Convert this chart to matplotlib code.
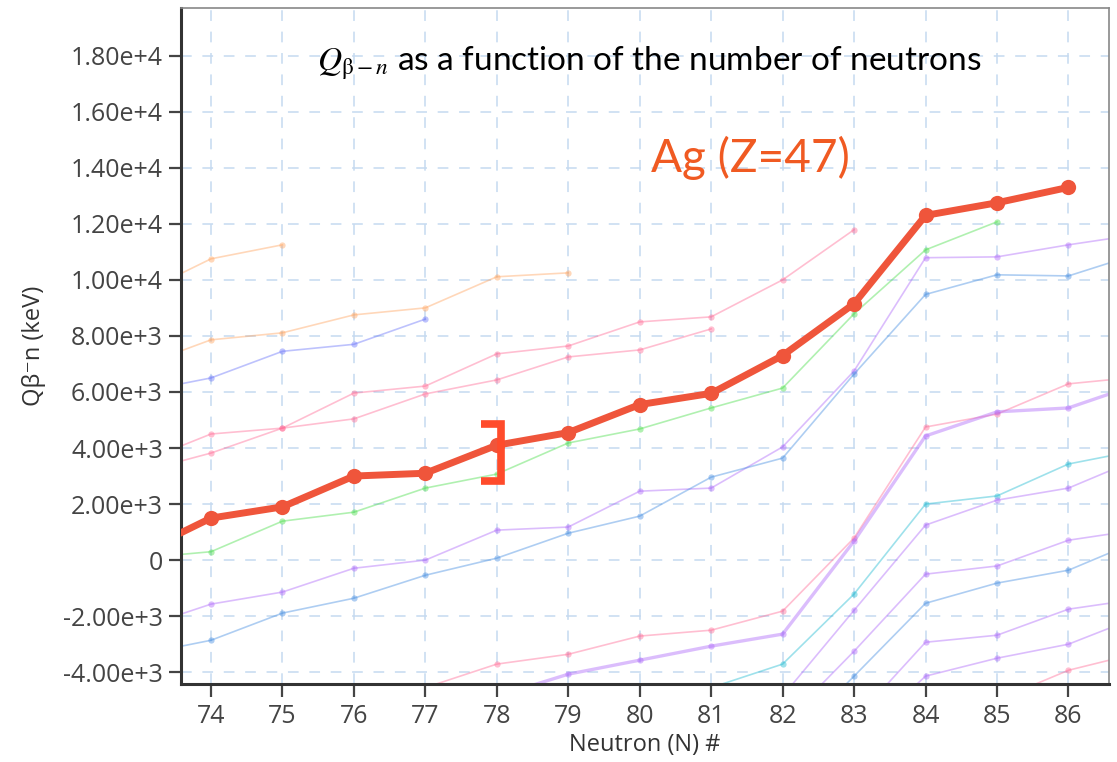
import matplotlib
matplotlib.use("Agg")
import matplotlib.pyplot as plt
from matplotlib.ticker import FixedLocator, FixedFormatter

plt.rcParams['mathtext.fontset'] = 'stix'

# Ag (Z=47) chain, highlighted
ag_n = [73, 74, 75, 76, 77, 78, 79, 80, 81, 82, 83, 84, 85, 86]
ag_q = [250, 1500, 1900, 3000, 3100, 4100, 4550, 5550, 5950, 7300, 9150, 12300, 12750, 13300]

# neighbouring chains (faded)
orange_a_n = [73, 74, 75]
orange_a_q = [9500, 10750, 11250]
orange_b_n = [73, 74, 75, 76, 77, 78, 79]
orange_b_q = [6920, 7860, 8110, 8750, 9000, 10110, 10250]
violet_n = [73, 74, 75, 76, 77]
violet_q = [6000, 6500, 7450, 7700, 8600]
pink_a_n = [73, 74, 75, 76, 77, 78, 79, 80, 81]
pink_a_q = [3480, 4500, 4710, 5040, 5930, 6430, 7250, 7500, 8250]
pink_b_n = [73, 74, 75, 76, 77, 78, 79, 80, 81, 82, 83]
pink_b_q = [3140, 3820, 4710, 5960, 6210, 7360, 7640, 8500, 8680, 10000, 11790]
green_n = [73, 74, 75, 76, 77, 78, 79, 80, 81, 82, 83, 84, 85]
green_q = [70, 300, 1390, 1710, 2570, 3070, 4180, 4680, 5430, 6140, 8790, 11070, 12070]
purple_a_n = [73, 74, 75, 76, 77, 78, 79, 80, 81, 82, 83, 84, 85, 86, 87]
purple_a_q = [-2420, -1570, -1140, -290, 0, 1070, 1180, 2460, 2570, 4040, 6750, 10790, 10820, 11250, 11630]
blue_a_n = [73, 74, 75, 76, 77, 78, 79, 80, 81, 82, 83, 84, 85, 86, 87]
blue_a_q = [-3370, -2860, -1890, -1360, -540, 70, 960, 1570, 2960, 3640, 6640, 9480, 10180, 10140, 10950]
pink_c_n = [77, 78, 79, 80, 81, 82, 83, 84, 85, 86, 87]
pink_c_q = [-4550, -3710, -3360, -2710, -2500, -1820, 790, 4750, 5210, 6290, 6540]
purple_b_n = [78, 79, 80, 81, 82, 83, 84, 85, 86, 87]
purple_b_q = [-4860, -4070, -3570, -3070, -2640, 680, 4430, 5290, 5430, 6300]
cyan_n = [81, 82, 83, 84, 85, 86, 87]
cyan_q = [-4550, -3710, -1210, 2000, 2290, 3430, 3930]
purple_c_n = [82, 83, 84, 85, 86, 87]
purple_c_q = [-4850, -1790, 1250, 2140, 2570, 3640]
purple_d_n = [82, 83, 84, 85, 86, 87]
purple_d_q = [-5850, -3250, -500, -210, 710, 1090]
blue_b_n = [82, 83, 84, 85, 86, 87]
blue_b_q = [-6700, -4140, -1540, -820, -360, 710]
purple_e_n = [83, 84, 85, 86, 87]
purple_e_q = [-5720, -2930, -2680, -1750, -1380]
purple_f_n = [83, 84, 85, 86, 87]
purple_f_q = [-6500, -4140, -3500, -3000, -2000]
pink_d_n = [85, 86, 87]
pink_d_q = [-5000, -3930, -3300]

x_ticks = list(range(74, 87))
y_ticks = [-4000, -2000, 0, 2000, 4000, 6000, 8000, 10000, 12000, 14000, 16000, 18000]
y_labels = ['-4.00e+3', '-2.00e+3', '0', '2.00e+3', '4.00e+3', '6.00e+3', '8.00e+3',
            '1.00e+4', '1.20e+4', '1.40e+4', '1.60e+4', '1.80e+4']

ORANGE = '#FFA15A'
VIOLET = '#636EFA'
PINK = '#FF6692'
GREEN = '#44dd44'
PURPLE = '#AB63FA'
BLUE = '#3f8ae0'
CYAN = '#19b8d0'
AG_RED = '#EF553B'

faded = [
    (orange_a_n, orange_a_q, ORANGE, 1.2),
    (orange_b_n, orange_b_q, ORANGE, 1.2),
    (violet_n, violet_q, VIOLET, 1.2),
    (pink_a_n, pink_a_q, PINK, 1.2),
    (pink_b_n, pink_b_q, PINK, 1.2),
    (green_n, green_q, GREEN, 1.2),
    (purple_a_n, purple_a_q, PURPLE, 1.2),
    (blue_a_n, blue_a_q, BLUE, 1.2),
    (pink_c_n, pink_c_q, PINK, 1.2),
    (purple_b_n, purple_b_q, PURPLE, 2.4),
    (cyan_n, cyan_q, CYAN, 1.2),
    (purple_c_n, purple_c_q, PURPLE, 1.2),
    (purple_d_n, purple_d_q, PURPLE, 1.2),
    (blue_b_n, blue_b_q, BLUE, 1.2),
    (purple_e_n, purple_e_q, PURPLE, 1.2),
    (purple_f_n, purple_f_q, PURPLE, 1.2),
    (pink_d_n, pink_d_q, PINK, 1.2),
]

fig = plt.figure(figsize=(11.17, 7.62), dpi=100)
ax = fig.add_axes([0.162, 0.102, 0.831, 0.8875])

for n, q, c, lw in faded:
    ax.plot(n, q, color=c, lw=lw, alpha=0.42, marker='o', ms=4.5, mew=0, zorder=2)

ax.plot(ag_n, ag_q, color=AG_RED, lw=5, marker='o', ms=11, mew=0, zorder=4,
        solid_joinstyle='round')

ax.set_xlim(73.58, 86.57)
ax.set_ylim(-4430, 19700)

ax.xaxis.set_major_locator(FixedLocator(x_ticks))
ax.yaxis.set_major_locator(FixedLocator(y_ticks))
ax.yaxis.set_major_formatter(FixedFormatter(y_labels))

ax.grid(True, color='#c5daf0', lw=1.1, ls=(0, (7, 7)), zorder=0)
ax.set_axisbelow(True)

ax.tick_params(axis='both', colors='#444444', labelsize=18, length=9, width=1.6,
               direction='out')
ax.tick_params(axis='y', pad=4)
ax.tick_params(axis='x', pad=5)
for lab in ax.get_xticklabels() + ax.get_yticklabels():
    lab.set_family(['Open Sans', 'DejaVu Sans'])

for side in ('left', 'bottom'):
    ax.spines[side].set_color('#333333')
    ax.spines[side].set_linewidth(2.2)
for side in ('top', 'right'):
    ax.spines[side].set_color('#888888')
    ax.spines[side].set_linewidth(1.2)

ax.set_xlabel('Neutron (N) #', fontsize=17, color='#333333',
              family=['Open Sans', 'DejaVu Sans'], labelpad=3)
ax.set_ylabel('Q\u03b2\u207bn (keV)', fontsize=17, color='#333333',
              family=['Open Sans', 'DejaVu Sans'], labelpad=12)

# bracket marking the gap between the Ag point and the chain below at N=78
i_ag = ag_n.index(78)
i_gr = green_n.index(78)
b_top = ag_q[i_ag] + 750
b_bot = green_q[i_gr] - 250
ax.plot([77.78, 78.06, 78.06, 77.78], [b_top, b_top, b_bot, b_bot],
        color='#ff4b2b', lw=5.5, solid_joinstyle='miter', solid_capstyle='butt', zorder=5)

ax.text(0.504, 0.918, r'$Q_{\mathrm{\beta}-n}$ as a function of the number of neutrons',
        transform=ax.transAxes, ha='center', va='center', fontsize=24,
        family=['Lato', 'DejaVu Sans'], color='black')
ax.text(0.613, 0.778, 'Ag (Z=47)', transform=ax.transAxes, ha='center', va='center',
        fontsize=33, family=['Lato', 'DejaVu Sans'], color='#f05a22')

fig.savefig('out.png', dpi=100, facecolor='white')
